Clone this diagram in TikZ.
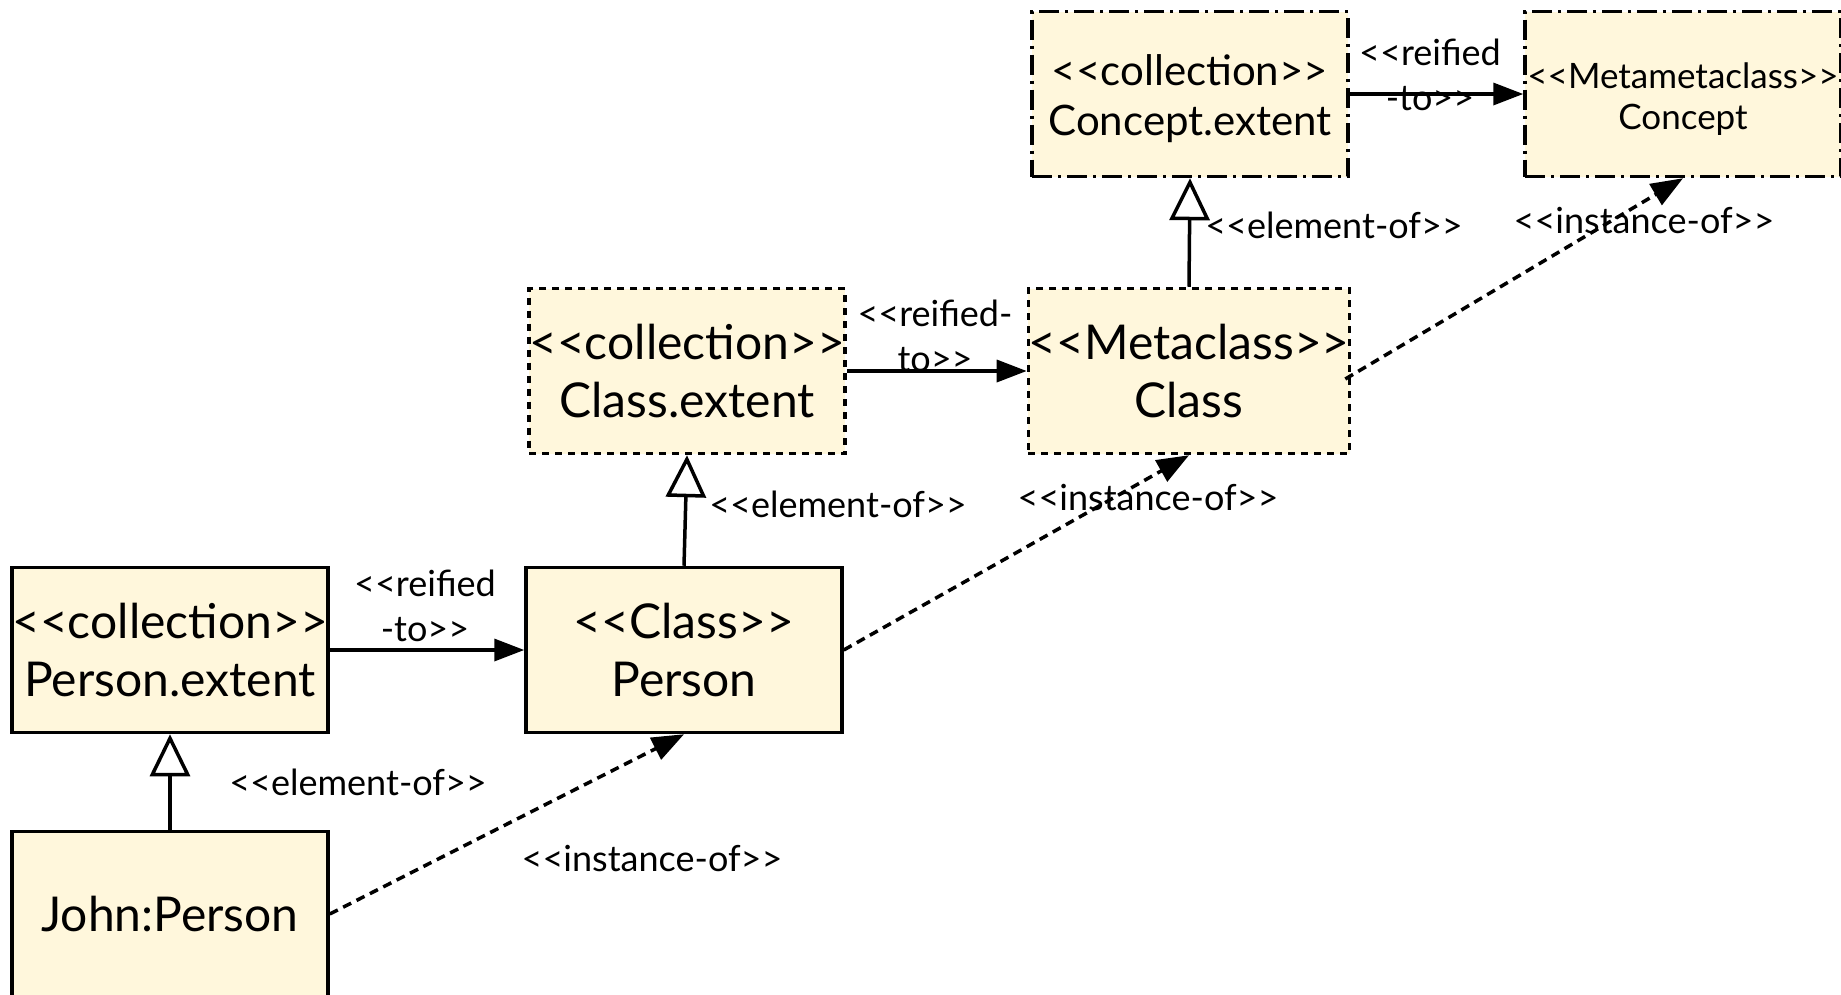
\documentclass[tikz,border=0pt]{standalone}
\usepackage{fontspec}
\setmainfont{Lato}[Ligatures=TeXOff]
\usetikzlibrary{arrows.meta}
\definecolor{boxfill}{RGB}{255,247,220}
\tikzset{
  umlbox/.style={draw, line width=3.5pt, fill=boxfill, minimum width=316pt,
    minimum height=165pt, inner sep=0pt, align=center,
    font=\fontsize{48}{58}\selectfont},
  dotbox/.style={umlbox, dash pattern=on 7pt off 6pt},
  dashdotbox/.style={umlbox, dash pattern=on 20pt off 6pt on 3pt off 6pt},
  boxtext/.style={align=center, inner sep=0pt, font=\fontsize{42}{50}\selectfont},
  conn/.style={line width=3.5pt},
  reif/.style={conn, -{Triangle[length=30pt,width=22pt]}},
  gen/.style={conn, -{Triangle[open, length=42pt, width=40pt, fill=white]}},
  inst/.style={conn, dash pattern=on 9pt off 6pt, -{Triangle[length=32pt,width=24pt]}},
  lbl/.style={font=\fontsize{36}{45}\selectfont, align=center, inner sep=0pt},
}
\begin{document}
\begin{tikzpicture}[x=1pt, y=-1pt]
  \useasboundingbox (0,0) rectangle (1841,994);
  \clip (0,0) rectangle (1841,994);

  % classifier boxes
  \node[umlbox]     (PE)   at (170,650)  {<<collection>>\\Person.extent};
  \node[umlbox]     (John) at (170,914)  {John:Person};
  \node[umlbox]     (CP)   at (684,650)  {<<Class>>\\Person};
  \node[dotbox]     (CE)   at (687,371)  {<<collection>>\\Class.extent};
  \node[dotbox]     (MC)   at (1189,371) {<<Metaclass>>\\Class};
  \node[dashdotbox] (CoE)  at (1190,94)  {};
  \node[boxtext]    (CoEt) at ([yshift=-5pt]CoE.center) {<<collection>>\\Concept.extent};
  \node[dashdotbox] (MMC)  at (1683,94)  {};
  \node[boxtext, font=\fontsize{35}{41}\selectfont]
                    (MMCt) at ([yshift=-5pt]MMC.center) {<<Metametaclass>>\\Concept};

  % reified-to
  \draw[reif] (PE.east) -- (CP.west);
  \draw[reif] (CE.east) -- (MC.west);
  \draw[reif] (CoE.east) -- (MMC.west);

  % element-of
  \draw[gen] (John.north) -- (PE.south);
  \draw[gen] (CP.north) -- (CE.south);
  \draw[gen] (MC.north) -- (CoE.south);

  % instance-of
  \draw[inst] (John.east) -- (CP.south);
  \draw[inst] (CP.east) -- (MC.south);
  \draw[inst] ([shift={(-6,8)}]MC.east) -- (MMC.south);

  % labels
  \node[lbl] (l1) at (425,606)  {<<reified\\-to>>};
  \node[lbl] (l2) at (935,336)  {<<reified-\\to>>};
  \node[lbl] (l3) at (1430,75)  {<<reified\\-to>>};
  \node[lbl] (l4) at (358,782)  {<<element-of>>};
  \node[lbl] (l5) at (838,504)  {<<element-of>>};
  \node[lbl] (l6) at (1334,225) {<<element-of>>};
  \node[lbl] (l7) at (652,858)  {<<instance-of>>};
  \node[lbl] (l8) at (1148,498) {<<instance-of>>};
  \node[lbl] (l9) at (1644,221) {<<instance-of>>};
\end{tikzpicture}
\end{document}
